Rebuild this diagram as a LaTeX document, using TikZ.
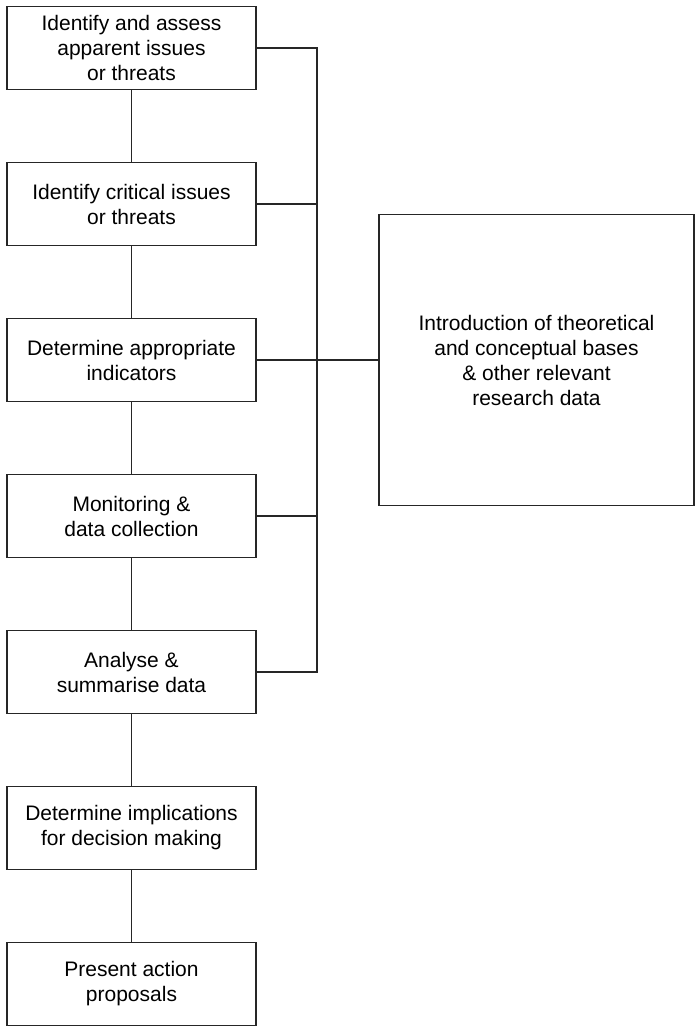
\documentclass[tikz,border=0pt]{standalone}
\usepackage{fontspec}
\setmainfont{Liberation Sans}
\usepackage{tikz}
\usetikzlibrary{positioning}

\begin{document}
\begin{tikzpicture}[
		x=1pt, y=1pt,
		node distance=73pt,
		block/.style={
			draw=black!85,
			line width=1.3pt,
			outer sep=0pt,
			align=center,
			minimum width=249pt,
			minimum height=83pt,
			inner sep=2pt,
			font=\fontsize{21}{25}\selectfont
		},
		link/.style={draw=black!85, line width=1.3pt}
		]
		
		\path[use as bounding box] (0,0) rectangle (696,-1026);
		
		\node[block] (assess) at (131.5,-48)
		{Identify and assess\\apparent issues\\or threats};
		
		\node[block, below=of assess] (critical)
		{Identify critical issues\\or threats};
		
		\node[block, below=of critical] (indicators)
		{Determine appropriate\\indicators};
		
		\node[block, below=of indicators] (monitor)
		{Monitoring \&\\data collection};
		
		\node[block, below=of monitor] (analyse)
		{Analyse \&\\summarise data};
		
		\node[block, below=of analyse] (implic)
		{Determine implications\\for decision making};
		
		\node[block, below=of implic] (present)
		{Present action\\proposals};
		
		\node[block, minimum width=315pt, minimum height=291pt,
			right=123pt of indicators] (intro)
		{Introduction of theoretical\\and conceptual bases\\\& other relevant\\research data};
		
		\coordinate[right=61pt of assess.east] (bustop);
		\coordinate (busend) at (bustop |- analyse.east);
		
		\draw[link] (assess) -- (critical);
		\draw[link] (critical) -- (indicators);
		\draw[link] (indicators) -- (monitor);
		\draw[link] (monitor) -- (analyse);
		\draw[link] (analyse) -- (implic);
		\draw[link] (implic) -- (present);
		
		\draw[link] (assess.east) -- (bustop) -- (busend) -- (analyse.east);
		\draw[link] (critical.east) -- (critical.east -| bustop);
		\draw[link] (monitor.east) -- (monitor.east -| bustop);
		\draw[link] (indicators.east) -- (intro.west);
		
	\end{tikzpicture}
\end{document}
